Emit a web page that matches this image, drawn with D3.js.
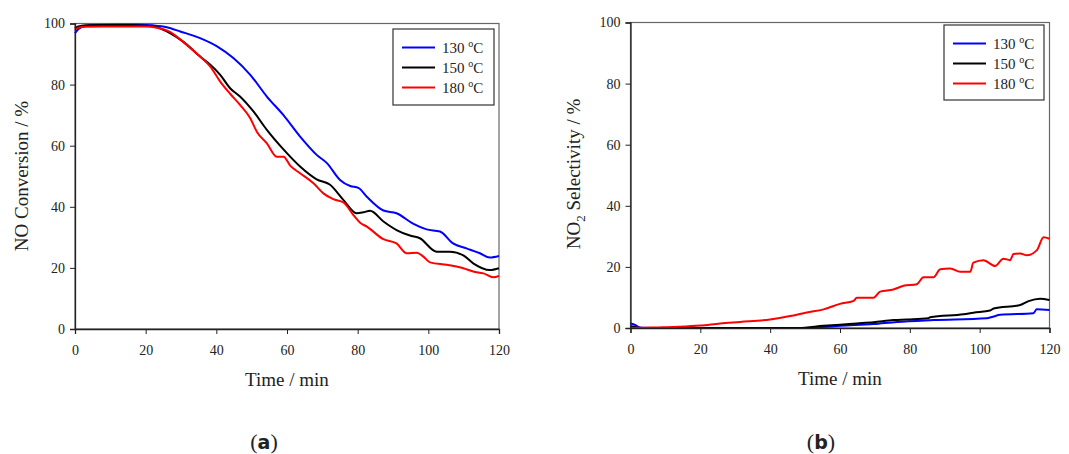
<!DOCTYPE html>
<html>
<head>
<meta charset="utf-8">
<script src="https://cdn.jsdelivr.net/npm/d3@7"></script>
<style>
  body { margin: 0; background: #fff; }
  svg text { font-family: "Liberation Serif", "Times New Roman", serif; fill: #222; }
</style>
</head>
<body>
<script>
const width = 1069, height = 454;

const series = ["130", "150", "180"];
const colors = ["#0000ff", "#000000", "#ff0000"];
const xTicks = [0, 20, 40, 60, 80, 100, 120];
const yTicks = [0, 20, 40, 60, 80, 100];

// (a) NO conversion, [time, %]
const conv130 = [[0,96.8],[1,98.2],[3,99.2],[6,99.5],[12,99.6],[18,99.6],[22,99.4],[26,98.8],[29.8,97.4],[35.4,95.2],[40.2,92.5],[44.9,88.6],[49.6,83.2],[54.3,76.1],[59,70],[63.7,63],[68.4,57],[71.3,54.3],[75,48.8],[77.9,46.8],[80.2,46.2],[82.6,43.3],[87.3,38.8],[91,37.9],[95.8,34.4],[99.5,32.6],[103.3,31.9],[107,28],[110.8,26.4],[114.6,24.8],[117.4,23.4],[120,23.9]];
const conv150 = [[0,98.5],[1,99],[3,99.4],[8,99.5],[15,99.5],[20,99.3],[23.2,98.8],[27,96.8],[30.7,94],[35.4,89.2],[38.3,86.5],[41.1,83.2],[43.9,78.8],[46.7,76.1],[50.5,71.2],[54.3,65.2],[59,58.8],[63.7,53.2],[68.4,49],[72.2,47.2],[76,42.2],[79.7,37.9],[81.6,38.2],[83.5,38.7],[87.3,35.2],[91,32.4],[94.8,30.6],[97.6,29.7],[102.4,25.3],[106.1,25.3],[109.9,24.1],[112.7,21.5],[117.4,19.3],[120,19.9]];
const conv180 = [[0,98],[1,98.6],[3,98.9],[8,99],[15,99],[20,99],[23.2,98.6],[27,97.2],[30.7,93.9],[35.4,89.2],[38.3,85.9],[41.1,81],[43.9,77],[46.7,73.4],[49.6,69],[51.5,64.5],[54.3,60.8],[57.1,56.4],[59,56.4],[60.9,53.5],[63.7,51],[67.5,47.7],[70.3,44.4],[73.1,42.5],[76,41.4],[78.8,37.3],[80.7,34.8],[82.6,33.5],[87.3,29.4],[91,28],[93.9,24.8],[96.7,25],[98.6,23.7],[100.5,21.8],[105.2,21],[109.9,19.9],[112.7,18.8],[115.6,18.2],[118.4,16.9],[120,17.4]];

// (b) NO2 selectivity, [time, %]
const sel130 = [[0,1.5],[1,1.2],[2,0.5],[3,0.1],[10,0],[30,0],[50,0],[55,0.3],[60,0.7],[69.6,1.3],[76.3,2],[86.8,2.6],[102,3.2],[103.8,3.7],[105.9,4.3],[115.4,4.8],[116.3,6.1],[120,5.9]];
const sel150 = [[0,0.6],[1,0.5],[2,0.1],[5,0],[30,0],[48,0],[55.3,0.7],[60,1.1],[64.8,1.5],[69.6,1.9],[75.3,2.6],[79.1,2.8],[85.3,3.2],[85.8,3.5],[95.4,4.5],[98.2,5],[103,5.7],[104,6.4],[111.6,7.5],[114,8.8],[117.3,9.6],[120,9.2]];
const sel180 = [[0,0],[4,0.1],[8,0.2],[14,0.4],[20,0.8],[25.7,1.5],[31.4,2],[40,2.8],[45.7,3.9],[50.5,5.1],[55.3,6.1],[60,7.9],[63.9,8.9],[64.8,9.9],[69.6,9.9],[71.5,11.9],[75.3,12.6],[78.2,13.8],[82,14.3],[83.9,16.6],[86.8,16.6],[88.7,19.2],[91.6,19.5],[94.4,18.4],[97.3,18.4],[98.2,21.4],[101.1,22.2],[104.4,20.3],[106.8,22.7],[108.7,22.2],[109.7,24.2],[111.6,24.4],[113.5,23.8],[116.4,25.5],[118.3,29.7],[120,29.2]];

const svg = d3.select("body").append("svg")
    .attr("width", width)
    .attr("height", height)
    .style("font-family", "'Liberation Serif', serif");

const panels = [
    { box: [75, 499, 23.5, 329], data: [conv130, conv150, conv180], ytitle: "conv", label: "a",
      legend: { x: 393, y: 29, w: 101, h: 76 }, ytx: 21, yty: 176 },
    { box: [630.5, 1049.5, 22.5, 328], data: [sel130, sel150, sel180], ytitle: "sel", label: "b",
      legend: { x: 944, y: 25, w: 100, h: 75 }, ytx: 573, yty: 174 }
];

panels.forEach(p => {
    const [x0, x1, y0, y1] = p.box;
    const xScale = d3.scaleLinear().domain([0, 120]).range([x0, x1]);
    const yScale = d3.scaleLinear().domain([0, 100]).range([y1, y0]);
    const g = svg.append("g");

    // frame (top / right)
    g.append("rect")
        .attr("x", x0).attr("y", y0)
        .attr("width", x1 - x0).attr("height", y1 - y0)
        .attr("fill", "none")
        .attr("stroke", "#666")
        .attr("stroke-width", 1.2);

    const line = d3.line()
        .x(d => xScale(d[0]))
        .y(d => yScale(d[1]))
        .curve(d3.curveMonotoneX);

    p.data.forEach((d, i) => {
        g.append("path")
            .datum(d)
            .attr("fill", "none")
            .attr("stroke", colors[i])
            .attr("stroke-width", 2)
            .attr("d", line);
    });

    const xAxis = d3.axisBottom(xScale).tickValues(xTicks).tickSize(5).tickPadding(11);
    const yAxis = d3.axisLeft(yScale).tickValues(yTicks).tickSize(5).tickPadding(5);

    const gx = g.append("g")
        .attr("transform", "translate(0," + y1 + ")")
        .call(xAxis);
    const gy = g.append("g")
        .attr("transform", "translate(" + x0 + ",0)")
        .call(yAxis);
    [gx, gy].forEach(a => {
        a.attr("font-family", null).attr("font-size", null);
        a.selectAll("path").attr("stroke", "#222").attr("stroke-width", 1.3);
        a.selectAll("line").attr("stroke", "#222");
        a.selectAll("text").style("font-size", "14px").attr("fill", "#222");
    });

    // x title
    g.append("text")
        .attr("x", (x0 + x1) / 2)
        .attr("y", y1 + 57)
        .attr("text-anchor", "middle")
        .style("font-size", "19px")
        .text("Time / min");

    // y title
    const yt = g.append("text")
        .attr("transform", "translate(" + p.ytx + "," + p.yty + ") rotate(-90)")
        .attr("text-anchor", "middle")
        .attr("dy", "0.35em")
        .style("font-size", "19px");
    if (p.ytitle === "conv") {
        yt.text("NO Conversion / %");
    } else {
        yt.append("tspan").text("NO");
        yt.append("tspan").attr("dy", 5).style("font-size", "13px").text("2");
        yt.append("tspan").attr("dy", -5).text(" Selectivity / %");
    }

    // legend
    const lg = g.append("g");
    lg.append("rect")
        .attr("x", p.legend.x).attr("y", p.legend.y)
        .attr("width", p.legend.w).attr("height", p.legend.h)
        .attr("fill", "#fff")
        .attr("stroke", "#333")
        .attr("stroke-width", 1.2);
    series.forEach((s, i) => {
        const ly = p.legend.y + 18.5 + i * 20;
        lg.append("line")
            .attr("x1", p.legend.x + 9).attr("x2", p.legend.x + 42)
            .attr("y1", ly).attr("y2", ly)
            .attr("stroke", colors[i])
            .attr("stroke-width", 2);
        const t = lg.append("text")
            .attr("x", p.legend.x + 49)
            .attr("y", ly + 5)
            .style("font-size", "15px");
        t.append("tspan").text(s + " ");
        t.append("tspan").attr("dy", -6).style("font-size", "10px").text("o");
        t.append("tspan").attr("dy", 6).text("C");
    });

    // panel label
    const pl = svg.append("text")
        .attr("x", (x0 + x1) / 2 + (p.label === "a" ? -23 : -19))
        .attr("y", 449)
        .attr("text-anchor", "middle")
        .style("font-size", "22px");
    pl.append("tspan").text("(");
    pl.append("tspan").style("font-weight", "bold").style("font-family", "'DejaVu Sans', sans-serif").style("font-size", "19px").text(p.label);
    pl.append("tspan").text(")");
});
</script>
</body>
</html>
